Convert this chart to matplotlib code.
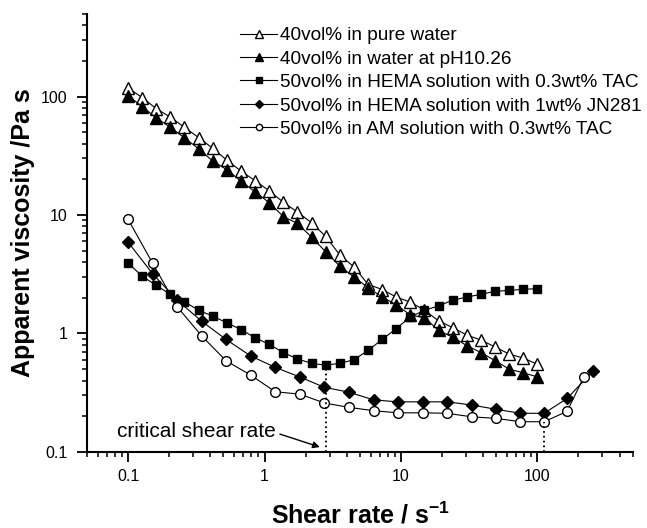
import matplotlib
matplotlib.use('Agg')
import matplotlib.pyplot as plt
from matplotlib.ticker import LogLocator, FuncFormatter, NullFormatter

plt.rcParams['font.family'] = ['Liberation Sans', 'DejaVu Sans']

# shear rates (1/s)
rate_a = [0.1, 0.127, 0.161, 0.204, 0.259, 0.329, 0.418, 0.53, 0.672, 0.853,
          1.083, 1.374, 1.743, 2.212, 2.807, 3.562, 4.52, 5.736, 7.279, 9.237,
          11.72, 14.87, 18.87, 23.95, 30.39, 38.57, 48.94, 62.1, 78.8, 100.0]
rate_b = [0.1, 0.151, 0.229, 0.346, 0.523, 0.79, 1.2, 1.81, 2.75, 4.15,
          6.3, 9.5, 14.4, 21.8, 33.0, 50.0, 75.0, 112.0, 165.0]
rate_circ_end = 219.0
rate_diam_end = 255.0

# apparent viscosity (Pa s)
pure_water = [118, 98, 79, 67, 55, 45, 36.5, 29, 23.5, 19.5,
              16, 12.8, 10.6, 8.6, 6.6, 4.6, 3.65, 2.6, 2.35, 2.03,
              1.84, 1.57, 1.28, 1.12, 0.97, 0.88, 0.77, 0.67, 0.62, 0.55]
ph_water = [102, 82, 66, 55, 44.8, 36.2, 28.5, 24.1, 19.3, 15.7,
            12.7, 9.7, 8.5, 6.5, 4.9, 3.7, 3.0, 2.44, 2.03, 1.75,
            1.43, 1.36, 1.06, 0.93, 0.79, 0.69, 0.59, 0.5, 0.466, 0.43]
hema_tac = [3.93, 3.04, 2.55, 2.14, 1.85, 1.57, 1.4, 1.23, 1.08, 0.92,
            0.81, 0.69, 0.61, 0.56, 0.54, 0.56, 0.6, 0.72, 0.89, 1.1,
            1.38, 1.57, 1.71, 1.91, 2.03, 2.14, 2.27, 2.31, 2.36, 2.39]
hema_jn = [5.9, 3.2, 1.91, 1.27, 0.89, 0.647, 0.517, 0.43, 0.351, 0.32,
           0.275, 0.265, 0.265, 0.265, 0.249, 0.229, 0.212, 0.212, 0.283, 0.48]
am_tac = [9.2, 3.93, 1.68, 0.955, 0.588, 0.446, 0.322, 0.308, 0.259, 0.238,
          0.223, 0.214, 0.214, 0.212, 0.198, 0.192, 0.18, 0.18, 0.22, 0.43]

labels = ['40vol% in pure water',
          '40vol% in water at pH10.26',
          '50vol% in HEMA solution with 0.3wt% TAC',
          '50vol% in HEMA solution with 1wt% JN281',
          '50vol% in AM solution with 0.3wt% TAC']

critical_rate = 2.8
upper_rate = 112.0

fig = plt.figure(figsize=(6.47, 5.28), dpi=100)
ax = fig.add_axes([0.1345, 0.144, 0.8435, 0.830])

lw = 0.8
ax.plot(rate_a, pure_water, '-', marker='^', color='k', mfc='white', ms=8.5, lw=lw, label=labels[0])
ax.plot(rate_a, ph_water, '-', marker='^', color='k', mfc='k', ms=8.5, lw=lw, label=labels[1])
ax.plot(rate_a, hema_tac, '-', marker='s', color='k', mfc='k', ms=6, lw=lw, label=labels[2])
ax.plot(rate_b + [rate_diam_end], hema_jn, '-', marker='D', color='k', mfc='k', ms=6.5, lw=lw, label=labels[3])
ax.plot(rate_b + [rate_circ_end], am_tac, '-', marker='o', color='k', mfc='white', ms=7, lw=lw, label=labels[4])

# critical shear rate markers
ax.plot([critical_rate, critical_rate], [0.1, hema_tac[14]], ':', color='k', lw=1.3)
ax.plot([upper_rate, upper_rate], [0.1, am_tac[17]], ':', color='k', lw=1.3)
ax.annotate('critical shear rate', xy=(2.54, 0.110), xytext=(0.083, 0.133),
            fontsize=15, ha='left', va='baseline',
            arrowprops=dict(arrowstyle='-|>', color='k', lw=1.0, shrinkA=1, shrinkB=0,
                            relpos=(1.0, 0.45), mutation_scale=10))

ax.set_xscale('log')
ax.set_yscale('log')
ax.set_xlim(0.05, 500)
ax.set_ylim(0.1, 500)

fmt = FuncFormatter(lambda v, p: '%g' % v)
for axis in (ax.xaxis, ax.yaxis):
    axis.set_major_locator(LogLocator(base=10, numticks=10))
    axis.set_minor_locator(LogLocator(base=10, subs=range(2, 10), numticks=20))
    axis.set_major_formatter(fmt)
    axis.set_minor_formatter(NullFormatter())

ax.spines['top'].set_visible(False)
ax.spines['right'].set_visible(False)
ax.spines['left'].set_linewidth(1.5)
ax.spines['bottom'].set_linewidth(1.5)
ax.tick_params(which='major', direction='out', length=7, width=1.3, labelsize=11.5)
ax.tick_params(which='minor', direction='out', length=3.5, width=1.1)
ax.tick_params(axis='x', which='major', pad=5.5)
ax.tick_params(axis='y', which='major', pad=7)

ax.set_xlabel('Shear rate / s$^{\\mathregular{-1}}$', fontsize=18, fontweight='bold', labelpad=13)
ax.set_ylabel('Apparent viscosity /Pa s', fontsize=18, fontweight='bold', labelpad=4)

ax.legend(loc='upper left', bbox_to_anchor=(240 / 647, 1 - 27 / 528), bbox_transform=fig.transFigure,
          frameon=False, fontsize=13.7, handlelength=1.95, handletextpad=0.15,
          labelspacing=0.32, borderaxespad=0, borderpad=0, markerscale=0.65)

fig.savefig('out.png', dpi=100)
